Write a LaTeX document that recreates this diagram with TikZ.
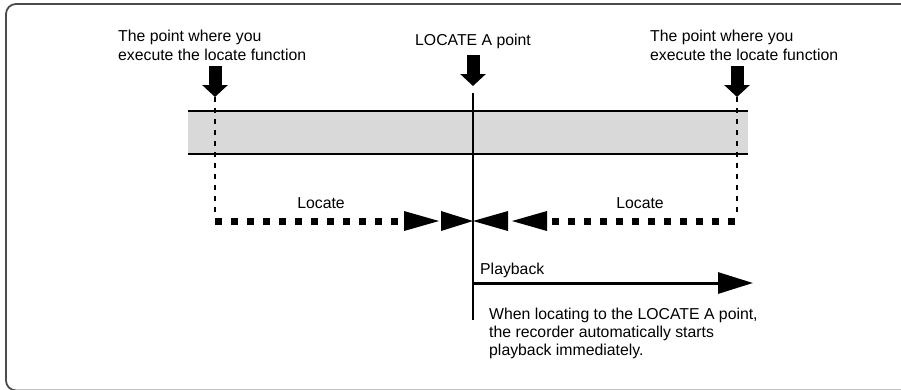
\documentclass[tikz,border=0pt]{standalone}
\usepackage{fontspec}
\setmainfont{Liberation Sans}
\usetikzlibrary{arrows.meta}
\begin{document}
\begin{tikzpicture}[x=1pt,y=-1pt,
  lbl/.style={font=\fontsize{15.8}{19}\selectfont,inner sep=0pt},
  dnarr/.style={line width=13pt,-{Triangle[width=25pt,length=12pt]}},
  dotsq/.style={line width=7pt,dash pattern=on 7pt off 9pt},
  dotv/.style={line width=2.5pt,dash pattern=on 5pt off 6pt},
  tri/.style={fill=black}]
\clip (0,0) rectangle (901,389);
% frame
\draw[line width=1.8pt,draw=black!70,rounded corners=10pt](930,4)--(6,4)--(6,390.5)--(930,390.5);
% tape bar
\fill[black!15](188,111) rectangle (748,154);
\draw[line width=1.4pt](188,111)--(748,111) (188,154)--(748,154);
% labels on top
\node[lbl,anchor=north west,align=left](ptl) at (118,29.5){The point where you\\execute the locate function};
\node[lbl,anchor=north west,align=left](ptr) at (650,29.5){The point where you\\execute the locate function};
\node[lbl,anchor=base](loca) at (473,45){LOCATE A point};
% points
\coordinate (pl) at (215,97);
\coordinate (pa) at (473,86);
\coordinate (pr) at (737,97);
\draw[dnarr](215,66)--(pl);
\draw[dnarr](473,55)--(pa);
\draw[dnarr](737,66)--(pr);
% locate A line
\coordinate (atop) at (473,93);
\coordinate (abot) at (473,320);
\draw[line width=1.4pt](atop)--(abot);
% locate paths
\coordinate (cl) at (215,221);
\coordinate (cr) at (737,221);
\draw[dotv](pl)--(215,215);
\draw[dotv](pr)--(737,215);
\draw[dotsq](cl)--(402,221);
\draw[dotsq](552,221)--(741,221);
\fill[tri](404,211)--(439,221)--(404,231)--cycle;
\fill[tri](441,211)--(473,221)--(441,231)--cycle;
\fill[tri](547,211)--(512,221)--(547,231)--cycle;
\fill[tri](508,211)--(473,221)--(508,231)--cycle;
\node[lbl,anchor=base](locl) at (321,208){Locate};
\node[lbl,anchor=base](locr) at (640,208){Locate};
% playback
\coordinate (pb) at (473,283);
\coordinate (pe) at (753,283);
\draw[line width=3pt,-{Triangle[width=21pt,length=35pt]}](pb)--(pe);
\node[lbl,anchor=base west](play) at (480,274){Playback};
\node[lbl,anchor=north west,align=left,font=\fontsize{15.8}{18}\selectfont](note) at (489,307.5){When locating to the LOCATE A point,\\the recorder automatically starts\\playback immediately.};
\end{tikzpicture}
\end{document}
